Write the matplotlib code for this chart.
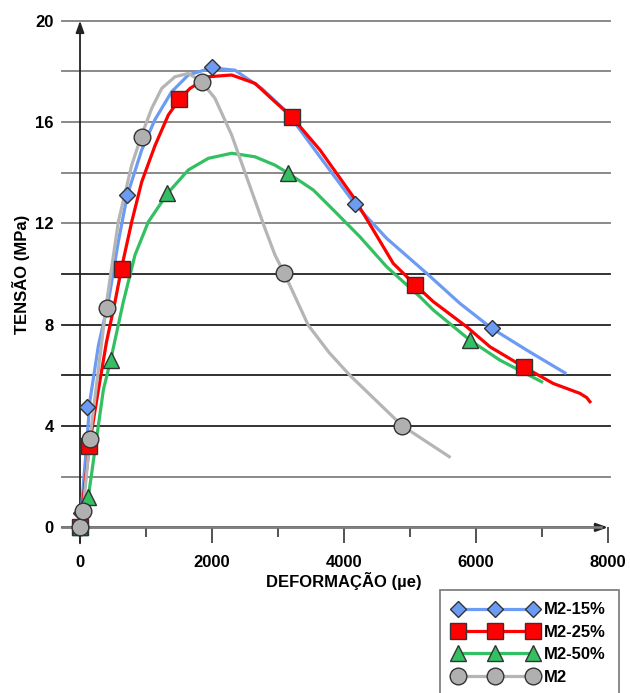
import matplotlib
matplotlib.use("Agg")
import matplotlib.pyplot as plt
from matplotlib.lines import Line2D

plt.rcParams['font.family'] = ['Liberation Sans', 'DejaVu Sans']
plt.rcParams['font.weight'] = 'bold'

# marker points (deformation in ue, stress in MPa)
m15_x = [0, 15, 100, 707, 1995, 4167, 6238]
m15_y = [0, 0.56, 4.76, 13.12, 18.18, 12.76, 7.86]
m25_x = [0, 140, 632, 1505, 3207, 5080, 6727]
m25_y = [0, 3.2, 10.22, 16.9, 16.21, 9.57, 6.33]
m50_x = [0, 126, 465, 1313, 3157, 5909]
m50_y = [0, 1.2, 6.61, 13.19, 13.98, 7.39]
m2_x = [0, 45, 150, 410, 935, 1844, 3095, 4883]
m2_y = [0, 0.64, 3.5, 8.66, 15.42, 17.59, 10.03, 4.01]

# smoothed curves
c15_x = [0, 152, 280, 429, 580, 717, 935, 1136, 1389, 1641, 1995, 2348, 2753, 3132,
         3636, 4167, 4647, 5253, 5758, 6238, 6768, 7348]
c15_y = [0, 5.03, 7.2, 8.9, 11.27, 13.12, 14.9, 16.1, 17.2, 17.86, 18.14, 18.05, 17.33, 16.41,
         14.63, 12.76, 11.41, 10.03, 8.84, 7.86, 7.0, 6.1]
c25_x = [0, 140, 253, 400, 530, 631, 783, 935, 1136, 1338, 1505, 1667, 1944, 2298, 2652,
         2955, 3207, 3636, 4141, 4444, 4747, 5080, 5354, 5859, 6212, 6727, 7172, 7576, 7680, 7727]
c25_y = [0, 3.2, 5.03, 7.3, 8.9, 10.26, 12.06, 13.64, 15.07, 16.28, 16.9, 17.33, 17.79, 17.86, 17.53,
         16.8, 16.21, 14.9, 13.05, 11.74, 10.42, 9.57, 8.91, 7.92, 7.13, 6.33, 5.68, 5.29, 5.12, 4.96]
c50_x = [0, 126, 354, 465, 656, 833, 1035, 1328, 1641, 1944, 2298, 2652, 2955, 3157, 3535,
         3889, 4242, 4646, 5152, 5354, 5909, 6364, 6995]
c50_y = [0, 1.2, 5.43, 6.61, 8.9, 10.75, 12.06, 13.19, 14.11, 14.57, 14.77, 14.63, 14.3, 13.98, 13.32,
         12.4, 11.47, 10.29, 9.1, 8.58, 7.39, 6.6, 5.75]
c2_x = [0, 45, 150, 404, 580, 783, 935, 1086, 1238, 1439, 1641, 1833, 2045, 2298, 2551,
        2803, 2955, 3095, 3459, 3775, 4091, 4883, 5595]
c2_y = [0, 0.64, 3.5, 8.9, 12.06, 14.3, 15.49, 16.54, 17.33, 17.79, 17.92, 17.62, 16.94, 15.49, 13.64,
        11.8, 10.75, 10.03, 7.98, 6.9, 6.0, 4.01, 2.79]

labels = ['M2-15%', 'M2-25%', 'M2-50%', 'M2']
y_ticks = [0, 4, 8, 12, 16, 20]
grid_levels = [2, 4, 6, 8, 10, 12, 14, 16, 18, 20]

fig = plt.figure(figsize=(6.3, 6.93), dpi=100)
ax = fig.add_axes([0.127, 0.239, 0.838, 0.731])
ax.set_xlim(0, 8000)
ax.set_ylim(0, 20)
for s in ax.spines.values():
    s.set_visible(False)

# horizontal grid lines, sticking out to the left like ticks
for g in grid_levels:
    col = '#222222' if g in (4, 6, 8, 10) else '#808080'
    ax.plot([-273, 8030], [g, g], color=col, lw=1.3, clip_on=False, zorder=1)

# axes with arrows
ax.annotate('', xy=(8000, 0), xytext=(-273, 0), annotation_clip=False,
            arrowprops=dict(arrowstyle='-|>,head_length=0.7,head_width=0.25', color='#222222',
                            lw=1.6, shrinkA=0, shrinkB=0), zorder=2)
ax.plot([-273, 7900], [0, 0], color='#808080', lw=1.8, clip_on=False, zorder=2)
ax.annotate('', xy=(0, 20), xytext=(0, -0.63), annotation_clip=False,
            arrowprops=dict(arrowstyle='-|>,head_length=0.7,head_width=0.25', color='#222222',
                            lw=1.3, shrinkA=0, shrinkB=0), zorder=2)

ax.set_xticks([0, 2000, 4000, 6000, 8000])
ax.set_xticks([1000, 3000, 5000, 7000], minor=True)
ax.tick_params(axis='x', which='major', length=11.5, width=1.3, color='#444444', pad=8.5,
               labelsize=12, direction='out')
ax.tick_params(axis='x', which='minor', length=7.2, width=1.3, color='#444444', direction='out')
ax.set_yticks(y_ticks)
ax.tick_params(axis='y', length=0, pad=19, labelsize=12)
for t in ax.get_xticklabels() + ax.get_yticklabels():
    t.set_fontweight('bold')

ax.set_xlabel('DEFORMAÇÃO (µe)', fontsize=12, fontweight='bold', labelpad=1)
ax.set_ylabel('TENSÃO (MPa)', fontsize=12, fontweight='bold', labelpad=4)

styles = [
    (c15_x, c15_y, m15_x, m15_y, '#6b9bf2', '#6b9bf2', 'D', 8),
    (c25_x, c25_y, m25_x, m25_y, '#ff0000', '#ff0000', 's', 11.5),
    (c50_x, c50_y, m50_x, m50_y, '#33c062', '#33c062', '^', 12),
    (c2_x, c2_y, m2_x, m2_y, '#b5b5b5', '#b0b0b0', 'o', 12),
]

handles = []
for i, (cx, cy, mx, my, lc, fc, mk, ms) in enumerate(styles):
    ax.plot(cx, cy, color=lc, lw=2.3, solid_joinstyle='round', clip_on=False, zorder=3 + i)
for i, (cx, cy, mx, my, lc, fc, mk, ms) in enumerate(styles):
    ax.plot(mx, my, ls='none', marker=mk, ms=ms, mfc=fc, mec='#333333', mew=1.0,
            clip_on=False, zorder=10 + i)
    handles.append(Line2D([], [], color=lc, lw=2.3, marker=mk, ms=ms, mfc=fc,
                          mec='#333333', mew=1.0))

leg = fig.legend(handles, labels, loc='upper left', bbox_to_anchor=(440 / 630, 1 - 590 / 693),
                 numpoints=3, handlelength=5.1, handletextpad=0.4, labelspacing=0.44,
                 borderaxespad=0, frameon=True, fancybox=False, borderpad=0.75,
                 prop={'weight': 'bold', 'size': 12})
leg.get_frame().set_edgecolor('#555555')
leg.get_frame().set_linewidth(1.2)

fig.savefig('out.png', dpi=100)
